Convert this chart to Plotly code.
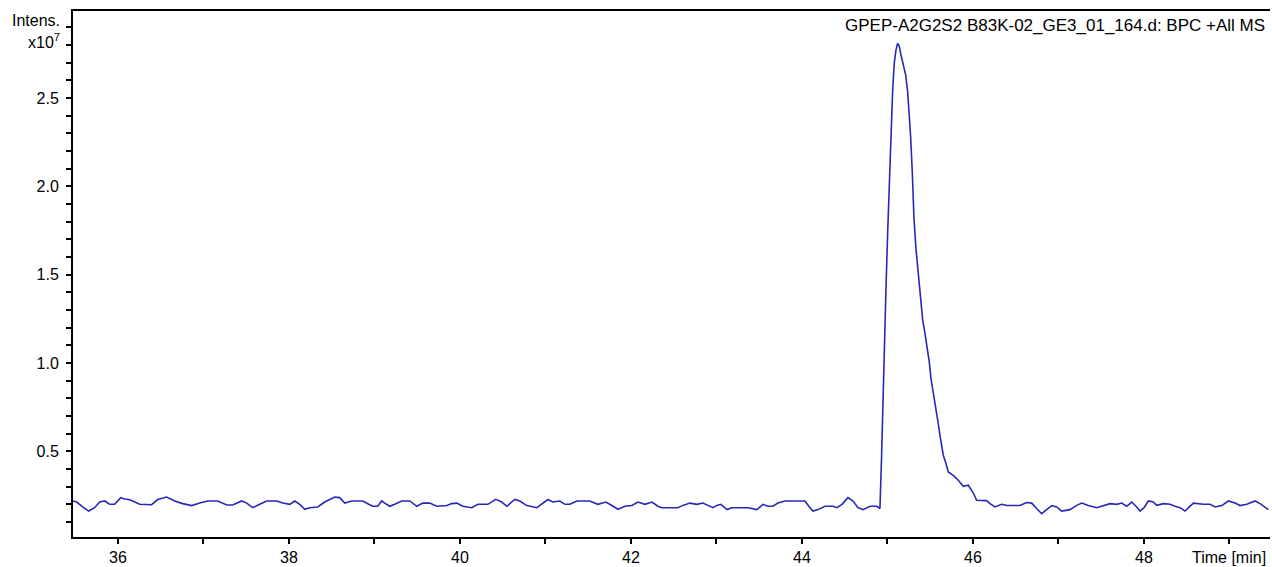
import plotly.graph_objects as go

# Retention time (min) and base peak intensity (x10^7)
time_min = [
    35.474, 35.517, 35.587, 35.657, 35.727, 35.786, 35.844, 35.903, 35.961, 36.032,
    36.078, 36.125, 36.172, 36.254, 36.394, 36.464, 36.570, 36.663, 36.757, 36.862,
    36.956, 37.049, 37.166, 37.272, 37.342, 37.447, 37.506, 37.576, 37.657, 37.739,
    37.856, 37.927, 38.009, 38.067, 38.126, 38.184, 38.243, 38.337, 38.418, 38.535,
    38.594, 38.652, 38.734, 38.863, 38.933, 38.980, 39.038, 39.085, 39.120, 39.179,
    39.237, 39.319, 39.413, 39.495, 39.565, 39.647, 39.729, 39.846, 39.904, 39.963,
    40.033, 40.138, 40.209, 40.326, 40.419, 40.489, 40.548, 40.641, 40.700, 40.782,
    40.899, 40.957, 41.028, 41.086, 41.168, 41.227, 41.285, 41.367, 41.519, 41.613,
    41.706, 41.777, 41.847, 41.929, 42.010, 42.081, 42.163, 42.245, 42.315, 42.361,
    42.549, 42.607, 42.689, 42.771, 42.841, 42.900, 42.958, 43.005, 43.052, 43.122,
    43.180, 43.368, 43.473, 43.543, 43.602, 43.660, 43.719, 43.801, 44.035, 44.093,
    44.129, 44.187, 44.269, 44.363, 44.409, 44.468, 44.538, 44.597, 44.655, 44.714,
    44.796, 44.878, 44.912, 44.932, 44.944, 44.962, 44.982, 45.002, 45.021, 45.044,
    45.060, 45.079, 45.099, 45.119, 45.138, 45.158, 45.185, 45.213, 45.236, 45.255,
    45.271, 45.290, 45.310, 45.333, 45.353, 45.372, 45.392, 45.412, 45.430, 45.450,
    45.470, 45.489, 45.509, 45.536, 45.556, 45.575, 45.594, 45.614, 45.634, 45.653,
    45.684, 45.711, 45.769, 45.828, 45.886, 45.945, 46.004, 46.043, 46.160, 46.199,
    46.257, 46.336, 46.394, 46.550, 46.628, 46.687, 46.745, 46.804, 46.862, 46.921,
    46.979, 47.038, 47.135, 47.213, 47.272, 47.349, 47.447, 47.524, 47.603, 47.681,
    47.740, 47.798, 47.857, 47.915, 47.954, 48.001, 48.051, 48.110, 48.149, 48.227,
    48.305, 48.363, 48.422, 48.480, 48.578, 48.695, 48.773, 48.832, 48.910, 48.987,
    49.065, 49.124, 49.202, 49.299, 49.358, 49.455,
]

intensity_e7 = [
    0.219, 0.213, 0.185, 0.162, 0.181, 0.213, 0.219, 0.200, 0.200, 0.238,
    0.230, 0.227, 0.219, 0.200, 0.198, 0.227, 0.241, 0.219, 0.204, 0.193,
    0.207, 0.219, 0.219, 0.196, 0.196, 0.219, 0.207, 0.181, 0.200, 0.219,
    0.219, 0.207, 0.200, 0.219, 0.200, 0.172, 0.181, 0.185, 0.213, 0.241,
    0.238, 0.207, 0.219, 0.219, 0.200, 0.189, 0.189, 0.219, 0.207, 0.189,
    0.200, 0.219, 0.219, 0.189, 0.207, 0.207, 0.189, 0.193, 0.204, 0.207,
    0.189, 0.181, 0.200, 0.200, 0.228, 0.213, 0.189, 0.228, 0.219, 0.193,
    0.181, 0.200, 0.227, 0.213, 0.219, 0.200, 0.200, 0.219, 0.219, 0.200,
    0.213, 0.193, 0.172, 0.189, 0.193, 0.213, 0.200, 0.213, 0.189, 0.181,
    0.181, 0.194, 0.207, 0.200, 0.207, 0.194, 0.181, 0.194, 0.200, 0.170,
    0.181, 0.181, 0.170, 0.200, 0.189, 0.189, 0.207, 0.219, 0.219, 0.181,
    0.162, 0.170, 0.189, 0.189, 0.181, 0.200, 0.238, 0.219, 0.181, 0.170,
    0.189, 0.189, 0.176, 0.487, 0.751, 1.082, 1.412, 1.734, 2.026, 2.329,
    2.536, 2.697, 2.772, 2.810, 2.795, 2.744, 2.687, 2.631, 2.536, 2.404,
    2.281, 2.083, 1.819, 1.649, 1.535, 1.431, 1.309, 1.243, 1.195, 1.139,
    1.082, 1.006, 0.912, 0.836, 0.771, 0.714, 0.657, 0.591, 0.525, 0.478,
    0.431, 0.383, 0.364, 0.336, 0.302, 0.308, 0.264, 0.223, 0.221, 0.204,
    0.185, 0.200, 0.193, 0.193, 0.210, 0.207, 0.176, 0.147, 0.170, 0.193,
    0.185, 0.162, 0.170, 0.194, 0.207, 0.193, 0.181, 0.194, 0.204, 0.200,
    0.207, 0.189, 0.213, 0.185, 0.162, 0.181, 0.219, 0.213, 0.194, 0.204,
    0.200, 0.189, 0.181, 0.162, 0.207, 0.200, 0.200, 0.185, 0.193, 0.219,
    0.207, 0.193, 0.200, 0.219, 0.204, 0.170,
]

title_text = "GPEP-A2G2S2 B83K-02_GE3_01_164.d: BPC +All MS"
x_range = [35.474, 49.474]
y_range = [0.015, 2.993]

FONT = "Liberation Sans, Arial, sans-serif"
TXT = "#000000"
LINE_COLOR = "rgb(40,40,182)"

fig = go.Figure()
fig.add_trace(go.Scatter(
    x=time_min, y=intensity_e7, mode="lines",
    line=dict(color=LINE_COLOR, width=1.6),
    hoverinfo="skip", showlegend=False,
))

fig.update_layout(
    width=1272, height=567,
    margin=dict(l=73, r=2, t=11, b=30),
    paper_bgcolor="white", plot_bgcolor="white",
    font=dict(family=FONT, size=16, color=TXT),
    showlegend=False,
)

fig.update_xaxes(
    range=x_range, showgrid=False, zeroline=False,
    showline=True, linecolor="black", linewidth=2, mirror=True,
    ticks="outside", ticklen=5, tickwidth=1.5, tickcolor="black",
    tick0=0, dtick=2,
    tickfont=dict(family=FONT, size=16, color=TXT),
    minor=dict(dtick=1, tick0=0, ticks="outside", ticklen=5, tickwidth=1.5, tickcolor="black", showgrid=False),
)
fig.update_yaxes(
    range=y_range, showgrid=False, zeroline=False,
    showline=True, linecolor="black", linewidth=2, mirror=False,
    ticks="outside", ticklen=5, tickwidth=1.5, tickcolor="black",
    tick0=0, dtick=0.5, tickformat=".1f",
    tickfont=dict(family=FONT, size=16, color=TXT),
    ticklabelstandoff=4,
    minor=dict(dtick=0.1, tick0=0, ticks="outside", ticklen=5, tickwidth=1.5, tickcolor="black", showgrid=False),
)

annos = [
    dict(text="Intens.", x=0, y=1, xref="paper", yref="paper", xanchor="right", yanchor="middle",
         xshift=-11, yshift=-9, showarrow=False, font=dict(family=FONT, size=16, color=TXT)),
    dict(text="x10<sup>7</sup>", x=0, y=1, xref="paper", yref="paper", xanchor="right", yanchor="middle",
         xshift=-11, yshift=-30, showarrow=False, font=dict(family=FONT, size=16, color=TXT)),
    dict(text=title_text, x=1, y=1, xref="paper", yref="paper", xanchor="right", yanchor="middle",
         xshift=-3, yshift=-14, showarrow=False, font=dict(family=FONT, size=17, color=TXT)),
    dict(text="Time [min]", x=1, y=0, xref="paper", yref="paper", xanchor="right", yanchor="middle",
         xshift=-2, yshift=-20, showarrow=False, font=dict(family=FONT, size=16, color=TXT)),
]
fig.update_layout(annotations=annos)

fig.write_html(
    "out.html",
    config={"displayModeBar": False},
    post_script="document.body.style.margin='0';document.body.style.overflow='hidden';",
)
